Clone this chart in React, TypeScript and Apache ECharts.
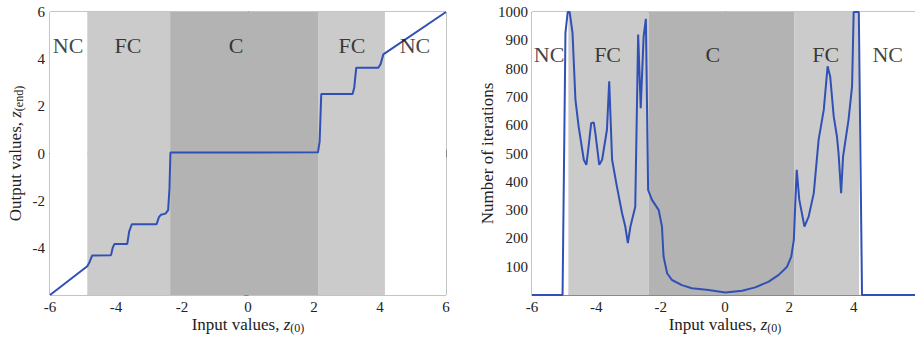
import React, { useEffect, useRef } from "react";
import * as echarts from "echarts";

// Left plot: output values vs input values
const leftX = [-6, -4.87, -4.8, -4.72, -4.15, -4.1, -4.05, -3.66, -3.6, -3.52, -2.77, -2.7, -2.64, -2.5, -2.42, -2.38, -2.35, 2.12, 2.17, 2.22, 3.17, 3.22, 3.28, 3.95, 4.02, 4.1, 6];
const leftY = [-6, -4.78, -4.6, -4.32, -4.31, -4.0, -3.84, -3.84, -3.3, -3.0, -3.0, -2.7, -2.6, -2.55, -2.4, -1.5, 0.04, 0.05, 0.5, 2.52, 2.52, 2.8, 3.64, 3.64, 3.8, 4.2, 6];

// Right plot: number of iterations vs input values
const rightX = [-6, -5.05, -4.96, -4.89, -4.83, -4.74, -4.65, -4.55, -4.39, -4.31, -4.24, -4.16, -4.08, -4.03, -3.91, -3.82, -3.67, -3.6, -3.51, -3.36, -3.2, -3.1, -3.02, -2.94, -2.79, -2.7, -2.62, -2.53, -2.46, -2.39, -2.27, -2.06, -1.96, -1.91, -1.8, -1.65, -1.34, -1.03, -0.51, 0.01, 0.53, 0.94, 1.36, 1.67, 1.93, 2.06, 2.14, 2.19, 2.23, 2.31, 2.47, 2.6, 2.76, 2.91, 3.07, 3.19, 3.27, 3.38, 3.48, 3.53, 3.61, 3.67, 3.84, 3.95, 4.0, 4.16, 4.26, 6];
const rightY = [0, 0, 926, 1000, 1000, 926, 690, 595, 478, 460, 525, 607, 610, 572, 460, 478, 584, 755, 478, 383, 289, 242, 183, 242, 312, 920, 660, 914, 976, 371, 336, 300, 242, 136, 77, 53, 35, 24, 18, 9, 15, 27, 47, 71, 100, 136, 195, 336, 442, 336, 242, 277, 360, 548, 654, 808, 772, 631, 560, 501, 360, 489, 619, 737, 1000, 1000, 0, 0];

// Region boundaries and names
const leftBounds = [-6, -4.87, -2.36, 2.14, 4.15, 6];
const rightBounds = [-6, -4.87, -2.37, 2.15, 4.17, 6];
const regionNames = ["NC", "FC", "C", "FC", "NC"];
const regionShade = ["#ffffff", "#cbcbcb", "#b3b3b3", "#cbcbcb", "#ffffff"];
const leftLabelX = [-5.45, -3.64, -0.36, 3.15, 5.06];
const leftLabelY = 4.56;
const rightLabelX = [-5.47, -3.65, -0.38, 3.13, 5.06];
const rightLabelY = 851;

const xTicksMin = -6;
const xTicksMax = 6;
const xInterval = 2;
const leftYMin = -6;
const leftYMax = 6;
const leftYInterval = 2;
const rightYMin = 0;
const rightYMax = 1000;
const rightYInterval = 100;

const FONT = "'Liberation Serif', 'Times New Roman', serif";
const AXIS = "#8a8a8a";
const TEXT = "#222222";
const BLUE = "#3150b6";

function areas(bounds: number[]) {
  return regionNames.map((_, i) => [
    { xAxis: bounds[i], itemStyle: { color: regionShade[i] } },
    { xAxis: bounds[i + 1] },
  ]);
}

const rich = {
  a: { fontFamily: FONT, fontSize: 17, color: TEXT, lineHeight: 20 },
  z: { fontFamily: FONT, fontSize: 17, color: TEXT, fontStyle: "italic", lineHeight: 20 },
  s: { fontFamily: FONT, fontSize: 12, color: TEXT, verticalAlign: "bottom", lineHeight: 20, padding: [6, 0, 0, 0] },
};

export default function App() {
  const ref = useRef<HTMLDivElement>(null);
  useEffect(() => {
    document.body.style.margin = "0";
    const chart = echarts.init(ref.current!, undefined, { renderer: "svg" });
    const tickStyle = { inside: true, length: 4, lineStyle: { color: AXIS } };
    const labelStyle = { fontFamily: FONT, fontSize: 15, color: TEXT, formatter: (v: number) => String(v) };
    const baseX = (grid: number, extra: any = {}) => ({
      type: "value",
      gridIndex: grid,
      min: xTicksMin,
      max: xTicksMax,
      interval: xInterval,
      axisLine: { show: true, lineStyle: { color: AXIS } },
      axisTick: tickStyle,
      splitLine: { show: false },
      axisLabel: { ...labelStyle, margin: 4 },
      nameMoveOverlap: false,
      ...extra,
    });
    const option: any = {
      animation: false,
      backgroundColor: "#ffffff",
      textStyle: { fontFamily: FONT },
      grid: [
        { left: 50, top: 12, width: 396, height: 283, show: true, borderColor: AXIS, borderWidth: 1, backgroundColor: "#ffffff", containLabel: false, outerBoundsMode: "none" },
        { left: 532, top: 12, width: 386, height: 283, show: true, borderColor: AXIS, borderWidth: 1, backgroundColor: "#ffffff", containLabel: false, outerBoundsMode: "none" },
      ],
      xAxis: [
        baseX(0, {
          name: "{a|Input values, }{z|z}{s|(0)}",
          nameLocation: "middle",
          nameGap: 19,
          nameTextStyle: { rich },
        }),
        baseX(1, {
          name: "{a|Input values, }{z|z}{s|(0)}",
          nameLocation: "middle",
          nameGap: 19,
          nameTextStyle: { rich },
          axisLabel: { ...labelStyle, margin: 4, showMaxLabel: false },
        }),
        baseX(0, { position: "top", axisLabel: { show: false } }),
        baseX(1, { position: "top", axisLabel: { show: false } }),
      ],
      yAxis: [
        {
          type: "value",
          gridIndex: 0,
          min: leftYMin,
          max: leftYMax,
          interval: leftYInterval,
          axisLine: { show: true, lineStyle: { color: AXIS } },
          axisTick: tickStyle,
          splitLine: { show: false },
          axisLabel: { ...labelStyle, margin: 5, showMinLabel: false },
          name: "{a|Output values, }{z|z}{s|(end)}",
          nameLocation: "middle",
          nameGap: 25,
          nameMoveOverlap: false,
          nameTextStyle: { rich },
        },
        {
          type: "value",
          gridIndex: 1,
          min: rightYMin,
          max: rightYMax,
          interval: rightYInterval,
          axisLine: { show: true, lineStyle: { color: AXIS } },
          axisTick: tickStyle,
          splitLine: { show: false },
          axisLabel: { ...labelStyle, margin: 4, showMinLabel: false },
          name: "Number of iterations",
          nameLocation: "middle",
          nameGap: 36,
          nameMoveOverlap: false,
          nameTextStyle: { fontFamily: FONT, fontSize: 17, color: TEXT },
        },
        {
          type: "value",
          gridIndex: 0,
          position: "right",
          min: leftYMin,
          max: leftYMax,
          interval: leftYInterval,
          axisLine: { show: true, lineStyle: { color: AXIS } },
          axisTick: tickStyle,
          splitLine: { show: false },
          axisLabel: { show: false },
        },
      ],
      series: [
        {
          type: "line",
          xAxisIndex: 0,
          yAxisIndex: 0,
          data: leftX.map((x, i) => [x, leftY[i]]),
          showSymbol: false,
          symbol: "none",
          lineStyle: { color: BLUE, width: 2 },
          markArea: { silent: true, data: areas(leftBounds) },
          z: 3,
        },
        {
          type: "line",
          xAxisIndex: 1,
          yAxisIndex: 1,
          data: rightX.map((x, i) => [x, rightY[i]]),
          showSymbol: false,
          symbol: "none",
          lineStyle: { color: BLUE, width: 2 },
          markArea: { silent: true, data: areas(rightBounds) },
          z: 3,
        },
        {
          type: "scatter",
          xAxisIndex: 0,
          yAxisIndex: 0,
          symbolSize: 0,
          data: leftLabelX.map((x, i) => ({ value: [x, leftLabelY], name: regionNames[i] })),
          label: { show: true, position: "inside", formatter: "{b}", fontFamily: FONT, fontSize: 22, color: "#111111" },
          z: 4,
        },
        {
          type: "scatter",
          xAxisIndex: 1,
          yAxisIndex: 1,
          symbolSize: 0,
          data: rightLabelX.map((x, i) => ({ value: [x, rightLabelY], name: regionNames[i] })),
          label: { show: true, position: "inside", formatter: "{b}", fontFamily: FONT, fontSize: 22, color: "#111111" },
          z: 4,
        },
      ],
    };
    chart.setOption(option);
    return () => chart.dispose();
  }, []);
  return <div ref={ref} style={{ width: 915, height: 338 }} />;
}
